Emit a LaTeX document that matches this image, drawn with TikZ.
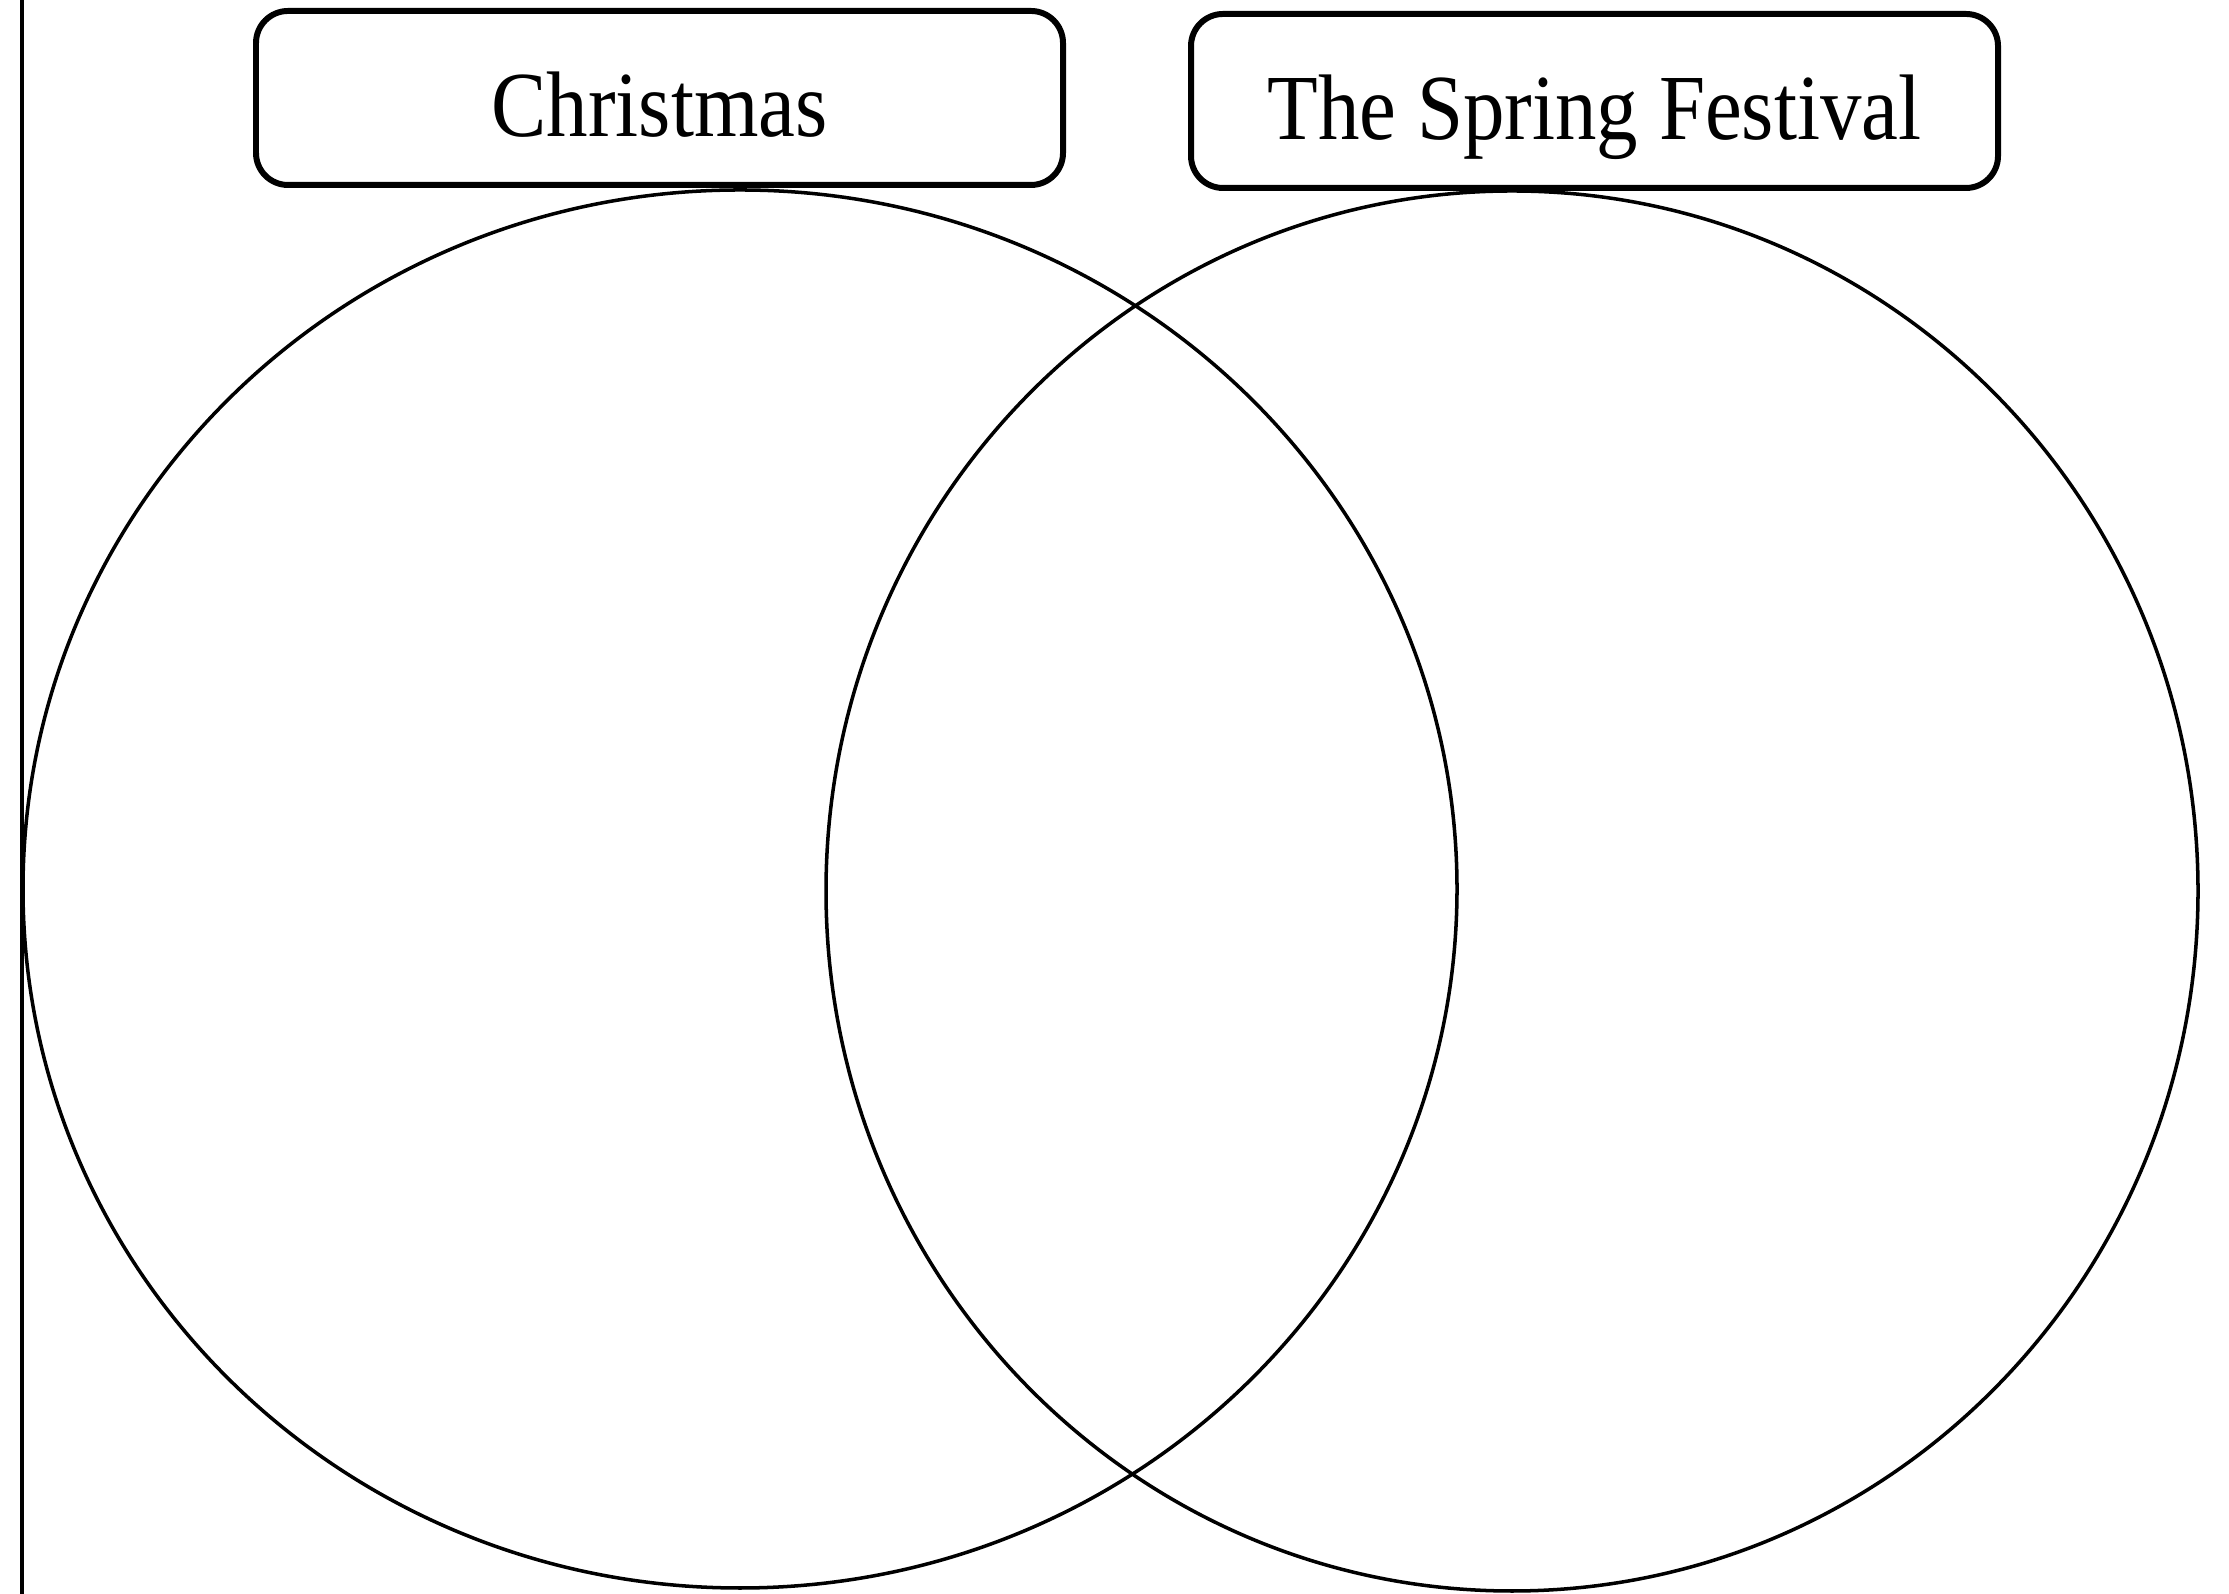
\documentclass[tikz,border=0pt]{standalone}
\usepackage{fontspec}
\newfontfamily\labelfont{Liberation Serif}[FakeStretch=0.89]
\usetikzlibrary{positioning}
\tikzset{
  title/.style={draw, line width=1.7pt, rounded corners=0.32cm,
    minimum width=8.07cm, minimum height=1.74cm,
    text height=21.8pt, text depth=0pt,
    font=\labelfont\fontsize{26.5}{30}\selectfont},
  ring/.style={line width=1pt}
}

\begin{document}
\begin{tikzpicture}
  \useasboundingbox (0,0) rectangle (22.29,15.94);
  \draw[ring] (0.22,0) -- (0.22,15.94);

  % the two sets
  \draw[ring] (7.40,7.05) ellipse (7.17 and 6.99);
  \draw[ring] (15.12,7.03) ellipse (6.86 and 7.00);

  \node[title] (xmas) at (6.595,14.96) {Christmas};
  \node[title] (spring) at (15.945,14.93) {The Spring Festival};
\end{tikzpicture}
\end{document}
